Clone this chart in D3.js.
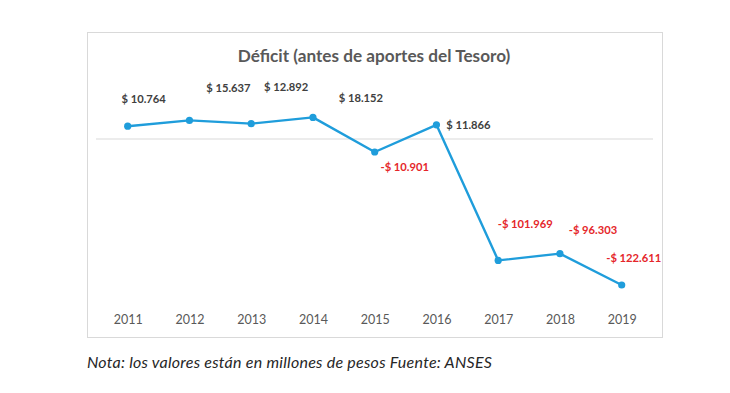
<!DOCTYPE html>
<html>
<head>
<meta charset="utf-8">
<script src="https://cdn.jsdelivr.net/npm/d3@7"></script>
<style>
  html, body { margin: 0; padding: 0; background: #fff; }
  svg { display: block; }
</style>
</head>
<body>
<div id="chart"></div>
<script>
// values in millions of pesos
const years = ["2011", "2012", "2013", "2014", "2015", "2016", "2017", "2018", "2019"];
const deficit = [10.764, 15.637, 12.892, 18.152, -10.901, 11.866, -101.969, -96.303, -122.611];
const labels = ["$ 10.764", "$ 15.637", "$ 12.892", "$ 18.152", "-$ 10.901", "$ 11.866", "-$ 101.969", "-$ 96.303", "-$ 122.611"];
// label nudges (dx, dy) from each point, as placed in the original
const labelNudge = [[16, -23], [39, -28], [35, -33], [48, -15], [30, 19], [32, 4], [27, -32], [33, -20], [12, -23]];

const W = 730, H = 393;
const font = "Lato, 'Open Sans', sans-serif";

const svg = d3.select("#chart").append("svg")
    .attr("width", W)
    .attr("height", H);

svg.append("rect").attr("width", W).attr("height", H).attr("fill", "#fff");

// chart frame
svg.append("rect")
    .attr("x", 87.5).attr("y", 32.5)
    .attr("width", 575).attr("height", 305)
    .attr("fill", "#fff")
    .attr("stroke", "#d9d9d9")
    .attr("stroke-width", 1);

svg.append("text")
    .attr("x", 374).attr("y", 62)
    .attr("text-anchor", "middle")
    .attr("font-family", font)
    .attr("font-weight", "bold")
    .attr("font-size", 17.2)
    .attr("fill", "#595959")
    .text("Déficit (antes de aportes del Tesoro)");

const x = d3.scalePoint()
    .domain(years)
    .range([127.7, 621.7]);

const y = d3.scaleLinear()
    .domain([-122.611, 0])
    .range([285, 139]);

// zero line
svg.append("line")
    .attr("x1", 96).attr("x2", 653)
    .attr("y1", y(0)).attr("y2", y(0))
    .attr("stroke", "#d9d9d9")
    .attr("stroke-width", 1.2);

// year axis, no domain line or ticks
const xAxis = svg.append("g")
    .attr("transform", "translate(0,315)")
    .call(d3.axisBottom(x).tickSize(0).tickPadding(0));
xAxis.select(".domain").remove();
xAxis.selectAll("text")
    .attr("dy", "0.71em")
    .attr("font-family", font)
    .attr("font-size", 12.5)
    .attr("fill", "#595959");

const pts = years.map((yr, i) => ({ yr, v: deficit[i], lab: labels[i], nudge: labelNudge[i] }));

svg.append("path")
    .datum(pts)
    .attr("fill", "none")
    .attr("stroke", "#1f9ddb")
    .attr("stroke-width", 2.4)
    .attr("stroke-linejoin", "round")
    .attr("d", d3.line().x(d => x(d.yr)).y(d => y(d.v)));

svg.selectAll("circle.pt")
    .data(pts)
    .join("circle")
    .attr("class", "pt")
    .attr("cx", d => x(d.yr))
    .attr("cy", d => y(d.v))
    .attr("r", 3.6)
    .attr("fill", "#1f9ddb");

svg.selectAll("text.lab")
    .data(pts)
    .join("text")
    .attr("class", "lab")
    .attr("x", d => x(d.yr) + d.nudge[0])
    .attr("y", d => y(d.v) + d.nudge[1])
    .attr("text-anchor", "middle")
    .attr("font-family", font)
    .attr("font-weight", "bold")
    .attr("font-size", 11.2)
    .attr("fill", d => d.v < 0 ? "#e5262a" : "#404040")
    .text(d => d.lab);

svg.append("text")
    .attr("x", 87).attr("y", 368)
    .attr("font-family", font)
    .attr("font-style", "italic")
    .attr("font-size", 16)
    .attr("letter-spacing", 0.25)
    .attr("fill", "#262626")
    .text("Nota: los valores están en millones de pesos Fuente: ANSES");
</script>
</body>
</html>
